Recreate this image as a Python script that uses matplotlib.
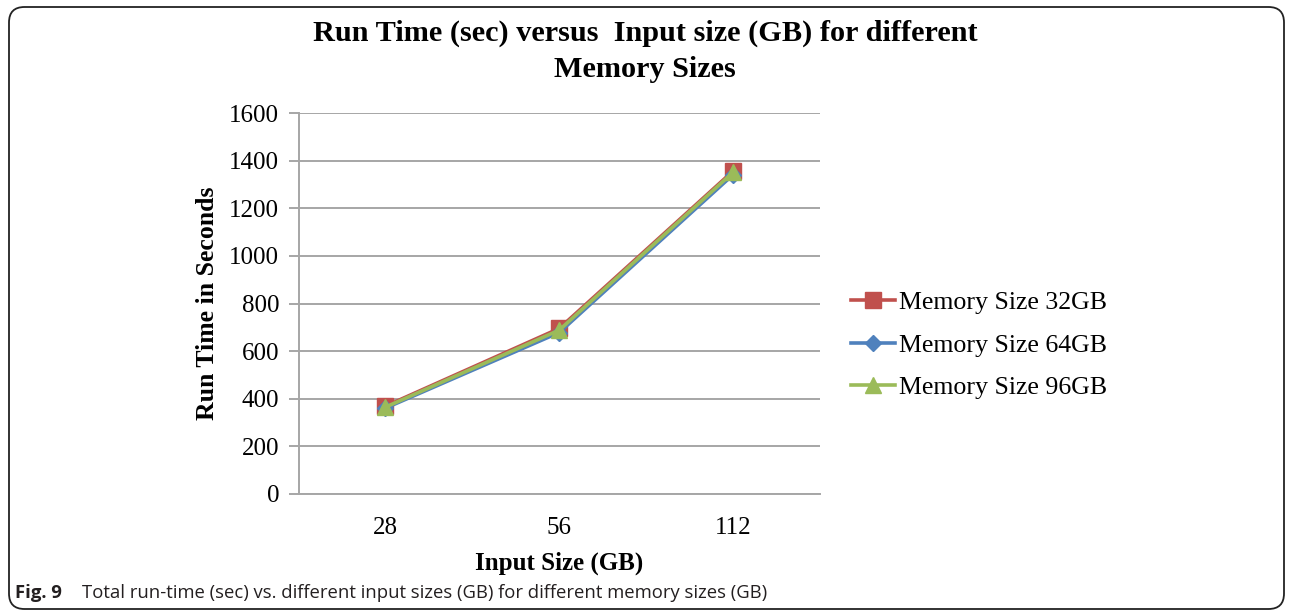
import matplotlib
matplotlib.use("Agg")
import matplotlib.pyplot as plt
from matplotlib.patches import FancyBboxPatch
from matplotlib.lines import Line2D

categories = ["28", "56", "112"]
series_names = ["Memory Size 32GB", "Memory Size 64GB", "Memory Size 96GB"]
mem32 = [368, 695, 1357]
mem64 = [360, 678, 1342]
mem96 = [364, 688, 1352]
yticks = [0, 200, 400, 600, 800, 1000, 1200, 1400, 1600]

colors = ["#C0504D", "#4F81BD", "#9BBB59"]
markers = ["s", "D", "^"]
msizes = [11, 8, 12]

W, H = 1291, 615
fig = plt.figure(figsize=(W / 100, H / 100), dpi=100)
fig.patch.set_facecolor("white")

# rounded frame
frame = FancyBboxPatch((9 / W, 6 / H), (1284 - 9) / W, (608 - 6) / H,
                       boxstyle="round,pad=0,rounding_size=0.012",
                       transform=fig.transFigure, fill=False,
                       edgecolor="#222222", linewidth=1.3, mutation_aspect=W / H)
fig.patches.append(frame)

left, right, top, bottom = 298.5, 820, 113.3, 493.7
ax = fig.add_axes([left / W, (H - bottom) / H, (right - left) / W, (bottom - top) / H])

serif = "Liberation Serif"
x = list(range(len(categories)))
for vals, c, m, ms, name in zip([mem32, mem64, mem96], colors, markers, msizes, series_names):
    ax.plot(x, vals, color=c, linewidth=2.6, marker=m, markersize=ms,
            markeredgecolor=c, label=name, solid_capstyle="round", zorder=3)

ax.set_xlim(-0.5, len(categories) - 0.5)
ax.set_ylim(0, 1600)
ax.set_yticks(yticks)
ax.set_xticks(x)
ax.set_xticklabels(categories)
ax.yaxis.grid(True, color="#A6A6A6", linewidth=1.4)
ax.set_axisbelow(True)
for s in ["top", "right"]:
    ax.spines[s].set_visible(False)
for s in ["left", "bottom"]:
    ax.spines[s].set_color("#A6A6A6")
    ax.spines[s].set_linewidth(1.4)
ax.tick_params(axis="y", length=7, width=1.4, color="#A6A6A6", pad=7)
ax.tick_params(axis="x", length=0, pad=17)
for lbl in ax.get_xticklabels() + ax.get_yticklabels():
    lbl.set_fontfamily(serif)
    lbl.set_fontsize(18)
    lbl.set_color("black")

ax.set_xlabel("Input Size (GB)", fontfamily=serif, fontsize=18, fontweight="bold", labelpad=9)
ax.set_ylabel("Run Time in Seconds", fontfamily=serif, fontsize=18.5, fontweight="bold", labelpad=7)

fig.text(645 / W, 1 - 51 / H, "Run Time (sec) versus  Input size (GB) for different\nMemory Sizes",
         ha="center", va="center", fontfamily=serif, fontsize=21.8, fontweight="bold",
         linespacing=1.42)

handles = [Line2D([0], [0], color=c, linewidth=2.6, marker=m, markersize=ms, markeredgecolor=c)
           for c, m, ms in zip(colors, markers, msizes)]
fig.legend(handles, series_names, loc="center left", bbox_to_anchor=(838 / W, 1 - 345 / H),
           frameon=False, prop={"family": serif, "size": 18.6}, handlelength=1.7,
           handletextpad=0.15, labelspacing=0.76, borderpad=0)

fig.text(15 / W, 1 - 593 / H, "Fig. 9", fontfamily="Open Sans", fontweight="bold",
         fontsize=13.3, va="center", ha="left", color="#231F20")
fig.text(82 / W, 1 - 593 / H,
         "Total run-time (sec) vs. different input sizes (GB) for different memory sizes (GB)",
         fontfamily="Open Sans", fontsize=13.3, va="center", ha="left", color="#231F20")

fig.savefig("out.png", dpi=100)
